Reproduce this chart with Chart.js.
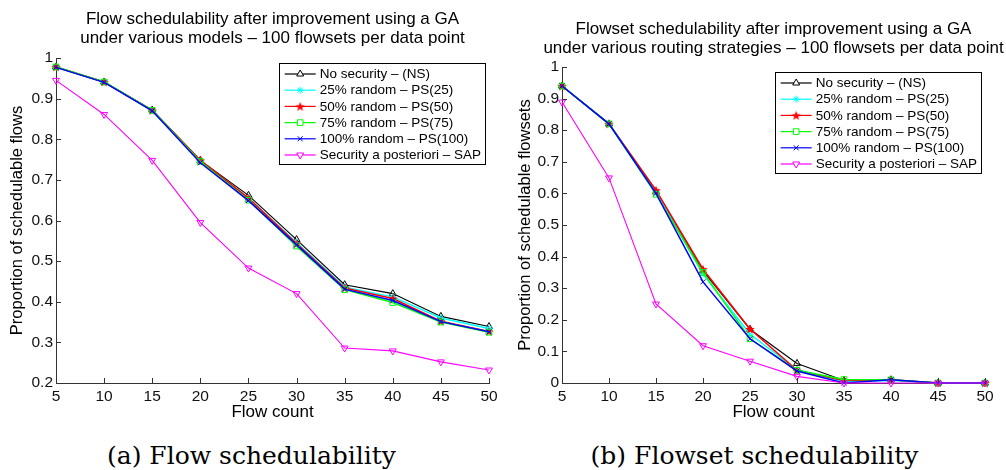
<!DOCTYPE html>
<html>
<head>
<meta charset="utf-8">
<script src="https://cdn.jsdelivr.net/npm/chart.js@4.4.1/dist/chart.umd.min.js"></script>
<style>
  body { margin: 0; background: #fff; width: 1006px; height: 470px; position: relative; overflow: hidden; }
  canvas { position: absolute; top: 0; }
  #chartA { left: 0; }
  #chartB { left: 503px; }
  .caption { position: absolute; top: 441px; width: 503px; text-align: center;
             font-family: "DejaVu Serif", "Liberation Serif", serif; font-size: 25px; color: #000; }
</style>
</head>
<body>
<canvas id="chartA" width="503" height="430"></canvas>
<canvas id="chartB" width="503" height="430"></canvas>
<div class="caption" style="left:0">(a) Flow schedulability</div>
<div class="caption" style="left:503px">(b) Flowset schedulability</div>

<script>
 /* DADOS */
 const flowCount = [5, 10, 15, 20, 25, 30, 35, 40, 45, 50];

 const seriesNames = [
   "No security – (NS)",
   "25% random – PS(25)",
   "50% random – PS(50)",
   "75% random – PS(75)",
   "100% random – PS(100)",
   "Security a posteriori – SAP"
 ];

 // (a) proporção de fluxos escalonáveis
 const nsA    = [0.978, 0.941, 0.872, 0.748, 0.662, 0.553, 0.442, 0.420, 0.364, 0.339];
 const ps25A  = [0.978, 0.941, 0.871, 0.746, 0.655, 0.546, 0.436, 0.412, 0.360, 0.334];
 const ps50A  = [0.978, 0.941, 0.871, 0.748, 0.655, 0.543, 0.434, 0.408, 0.352, 0.327];
 const ps75A  = [0.978, 0.941, 0.871, 0.745, 0.650, 0.537, 0.430, 0.398, 0.350, 0.325];
 const ps100A = [0.977, 0.940, 0.870, 0.742, 0.649, 0.540, 0.431, 0.403, 0.351, 0.326];
 const sapA   = [0.945, 0.861, 0.748, 0.595, 0.483, 0.420, 0.286, 0.279, 0.252, 0.232];

 // (b) proporção de flowsets escalonáveis
 const nsB    = [0.940, 0.820, 0.605, 0.355, 0.170, 0.062, 0.008, 0.010, 0, 0];
 const ps25B  = [0.940, 0.820, 0.605, 0.345, 0.155, 0.042, 0.005, 0.008, 0, 0];
 const ps50B  = [0.940, 0.820, 0.610, 0.360, 0.171, 0.040, 0.008, 0.010, 0, 0];
 const ps75B  = [0.940, 0.820, 0.597, 0.350, 0.140, 0.040, 0.011, 0.010, 0, 0];
 const ps100B = [0.940, 0.820, 0.600, 0.320, 0.140, 0.038, 0, 0.010, 0, 0];
 const sapB   = [0.889, 0.649, 0.250, 0.118, 0.069, 0.021, 0, 0, 0, 0];

 const FONT = "'Liberation Sans', Arial, Helvetica, sans-serif";

 // estrela cheia (pentagrama) para PS(50)
 function pentagram(color, size) {
   const c = document.createElement("canvas");
   c.width = c.height = size;
   const g = c.getContext("2d");
   const R = size / 2, r = R * 0.42;
   g.fillStyle = color;
   g.beginPath();
   for (let i = 0; i < 10; i++) {
     const rad = i % 2 ? r : R;
     const a = -Math.PI / 2 + i * Math.PI / 5;
     const px = R + rad * Math.cos(a), py = R + rad * Math.sin(a) + 0.5;
     i ? g.lineTo(px, py) : g.moveTo(px, py);
   }
   g.closePath();
   g.fill();
   return c;
 }
 const redStar = pentagram("#ff0000", 10);

 const styles = [
   { color: "#000000", pointStyle: "triangle", radius: 4, rotation: 0, width: 1.1 },
   { color: "#00ffff", pointStyle: "star", radius: 3.5, rotation: 0, width: 1.5 },
   { color: "#ff0000", pointStyle: redStar, radius: 4, rotation: 0, width: 1.5 },
   { color: "#00ff00", pointStyle: "rect", radius: 4, rotation: 0, width: 1.5 },
   { color: "#0000ff", pointStyle: "crossRot", radius: 3.5, rotation: 0, width: 1.5 },
   { color: "#ff00ff", pointStyle: "triangle", radius: 4, rotation: 180, width: 1.1 }
 ];

 function makeDatasets(list) {
   return list.map((values, i) => ({
     label: seriesNames[i],
     data: values,
     borderColor: styles[i].color,
     backgroundColor: "rgba(0,0,0,0)",
     pointBorderColor: styles[i].color,
     pointBackgroundColor: "rgba(0,0,0,0)",
     pointStyle: styles[i].pointStyle,
     pointRadius: styles[i].radius,
     pointRotation: styles[i].rotation,
     pointBorderWidth: 1,
     borderWidth: styles[i].width,
     tension: 0,
     clip: false,
     order: list.length - i   /* a última série fica por cima */
   }));
 }

 // título em duas linhas, desenhado sobre a área do gráfico
 const titlePlugin = {
   id: "titleLines",
   afterDraw(chart, args, opts) {
     const ctx = chart.ctx, a = chart.chartArea;
     ctx.save();
     ctx.font = "17px " + FONT;
     ctx.fillStyle = "#000";
     ctx.textAlign = "center";
     ctx.textBaseline = "middle";
     const cx = (a.left + a.right) / 2;
     opts.lines.forEach((t, i) => ctx.fillText(t, cx, opts.y + i * 19));
     ctx.restore();
   }
 };

 // marcas de escala para dentro, como no MATLAB
 const ticksPlugin = {
   id: "innerTicks",
   afterDatasetsDraw(chart) {
     const ctx = chart.ctx, a = chart.chartArea;
     const xs = chart.scales.x, ys = chart.scales.y;
     ctx.save();
     ctx.strokeStyle = "#333";
     ctx.lineWidth = 1;
     ctx.beginPath();
     xs.ticks.forEach(t => {
       const px = Math.round(xs.getPixelForValue(t.value)) + 0.5;
       ctx.moveTo(px, a.bottom); ctx.lineTo(px, a.bottom - 5);
     });
     ys.ticks.forEach(t => {
       const py = Math.round(ys.getPixelForValue(t.value)) + 0.5;
       ctx.moveTo(a.left, py); ctx.lineTo(a.left + 5, py);
     });
     ctx.stroke();
     ctx.restore();
   }
 };

 // legenda com caixa dentro da área do gráfico (canto superior direito)
 const legendPlugin = {
   id: "boxLegend",
   afterDraw(chart, args, opts) {
     const ctx = chart.ctx, a = chart.chartArea;
     const sets = chart.data.datasets;
     ctx.save();
     ctx.font = "13.5px " + FONT;
     const tw = Math.max(...sets.map(d => ctx.measureText(d.label).width));
     const w = tw + 45, h = 101, rowH = 16.2;
     const left = a.right - opts.right - w, top = a.top + opts.top;
     ctx.fillStyle = "#fff";
     ctx.fillRect(left, top, w, h);
     ctx.strokeStyle = "#000";
     ctx.lineWidth = 1;
     ctx.strokeRect(Math.round(left) + 0.5, Math.round(top) + 0.5, Math.round(w), h);
     sets.forEach((d, i) => {
       const y = top + 11 + i * rowH;
       ctx.strokeStyle = d.borderColor;
       ctx.lineWidth = 1.2;
       ctx.beginPath();
       ctx.moveTo(left + 6, y); ctx.lineTo(left + 37, y);
       ctx.stroke();
       ctx.lineWidth = 1;
       ctx.fillStyle = "#fff";
       Chart.helpers.drawPoint(ctx, {
         pointStyle: d.pointStyle, radius: d.pointRadius, rotation: d.pointRotation, borderWidth: 1
       }, left + 21.5, y);
       ctx.fillStyle = "#000";
       ctx.textAlign = "left";
       ctx.textBaseline = "middle";
       ctx.fillText(d.label, left + 41, y + 0.5);
     });
     ctx.restore();
   }
 };

 function makeConfig(datasets, yMin, yLabel, titleLines, geom) {
   return {
     type: "line",
     data: { labels: flowCount, datasets: datasets },
     options: {
       responsive: false,
       animation: false,
       layout: { padding: { left: 0, right: geom.right, top: geom.top, bottom: geom.bottom } },
       plugins: {
         legend: { display: false },
         title: { display: false },
         tooltip: { enabled: false },
         titleLines: { lines: titleLines, y: geom.titleY },
         boxLegend: { right: 4, top: 5 }
       },
       scales: {
         x: {
           type: "linear",
           min: 5, max: 50,
           afterFit: s => { s.height = 44; },
           border: { display: true, color: "#333", width: 1 },
           grid: { display: false, drawTicks: false },
           ticks: { stepSize: 5, padding: 4, color: "#111", font: { family: FONT, size: 15.5 } },
           title: { display: true, text: "Flow count", color: "#000", padding: { top: 0 },
                    font: { family: FONT, size: 17 } }
         },
         y: {
           min: yMin, max: 1,
           afterFit: s => { s.width = geom.yWidth; },
           border: { display: true, color: "#333", width: 1 },
           grid: { display: false, drawTicks: false },
           ticks: { stepSize: 0.1, padding: 3, color: "#111", font: { family: FONT, size: 15.5 } ,
                    callback: v => String(+v.toFixed(1)) },
           title: { display: true, text: yLabel, color: "#000", padding: { top: geom.yTitlePad },
                    font: { family: FONT, size: 16.5 } }
         }
       }
     },
     plugins: [ticksPlugin, titlePlugin, legendPlugin]
   };
 }

 const chartA = new Chart(document.getElementById("chartA"), makeConfig(
   makeDatasets([nsA, ps25A, ps50A, ps75A, ps100A, sapA]), 0.2,
   "Proportion of schedulable flows",
   ["Flow schedulability after improvement using a GA",
    "under various models – 100 flowsets per data point"],
   { right: 14, top: 58, bottom: 3, yWidth: 56, yTitlePad: 8, titleY: 19 }
 ));

 const chartB = new Chart(document.getElementById("chartB"), makeConfig(
   makeDatasets([nsB, ps25B, ps50B, ps75B, ps100B, sapB]), 0,
   "Proportion of schedulable flowsets",
   ["Flowset schedulability after improvement using a GA",
    "under various routing strategies – 100 flowsets per data point"],
   { right: 21, top: 67, bottom: 3, yWidth: 59, yTitlePad: 13, titleY: 29 }
 ));
</script>
</body>
</html>
